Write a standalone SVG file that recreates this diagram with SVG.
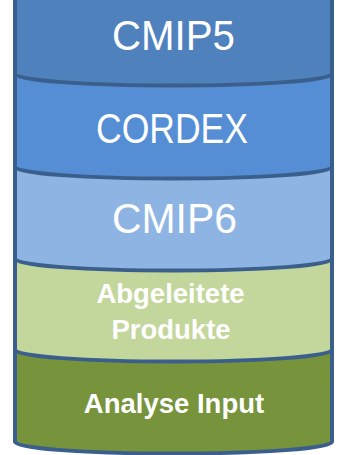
<svg xmlns="http://www.w3.org/2000/svg" width="337" height="455" viewBox="0 0 337 455">
<style>
.edge{fill:none;stroke:#3A5F8C;stroke-width:4}
.lbl{fill:#fff;font-family:"Liberation Sans",Arial,sans-serif;text-anchor:middle}
.big{font-size:43px}
.bold{font-size:27.5px;font-weight:bold}
</style>
<rect width="337" height="455" fill="#fff"/>
<g id="cmip5">
<path d="M15,-4 L332,-4 L332,74 A158.5,11.5 0 0 1 15,74 Z" fill="#4F81BD"/>
<text class="lbl big" x="173.5" y="50" textLength="123" lengthAdjust="spacingAndGlyphs">CMIP5</text>
</g>
<g id="cordex">
<path d="M15,74 A158.5,11.5 0 0 0 332,74 L332,167 A158.5,11.5 0 0 1 15,167 Z" fill="#558ED5"/>
<text class="lbl big" x="172" y="143" textLength="152" lengthAdjust="spacingAndGlyphs">CORDEX</text>
</g>
<g id="cmip6">
<path d="M15,167 A158.5,11.5 0 0 0 332,167 L332,259 A158.5,11.5 0 0 1 15,259 Z" fill="#8EB4E3"/>
<text class="lbl big" x="174.5" y="233" textLength="125" lengthAdjust="spacingAndGlyphs">CMIP6</text>
</g>
<g id="abgeleitete">
<path d="M15,259 A158.5,11.5 0 0 0 332,259 L332,350 A158.5,11.5 0 0 1 15,350 Z" fill="#C3D69B"/>
<text class="lbl bold" x="170.5" y="303">Abgeleitete</text>
<text class="lbl bold" x="171" y="339">Produkte</text>
</g>
<g id="analyse">
<path d="M15,350 A158.5,11.5 0 0 0 332,350 L332,442 A158.5,11.5 0 0 1 15,442 Z" fill="#77933C"/>
<text class="lbl bold" x="174" y="413">Analyse Input</text>
</g>
<g id="outline">
<path class="edge" d="M15,-4 L15,442 A158.5,11.5 0 0 0 332,442 L332,-4"/>
<path class="edge" d="M15,74 A158.5,11.5 0 0 0 332,74"/>
<path class="edge" d="M15,167 A158.5,11.5 0 0 0 332,167"/>
<path class="edge" d="M15,259 A158.5,11.5 0 0 0 332,259"/>
<path class="edge" d="M15,350 A158.5,11.5 0 0 0 332,350"/>
</g>
</svg>
